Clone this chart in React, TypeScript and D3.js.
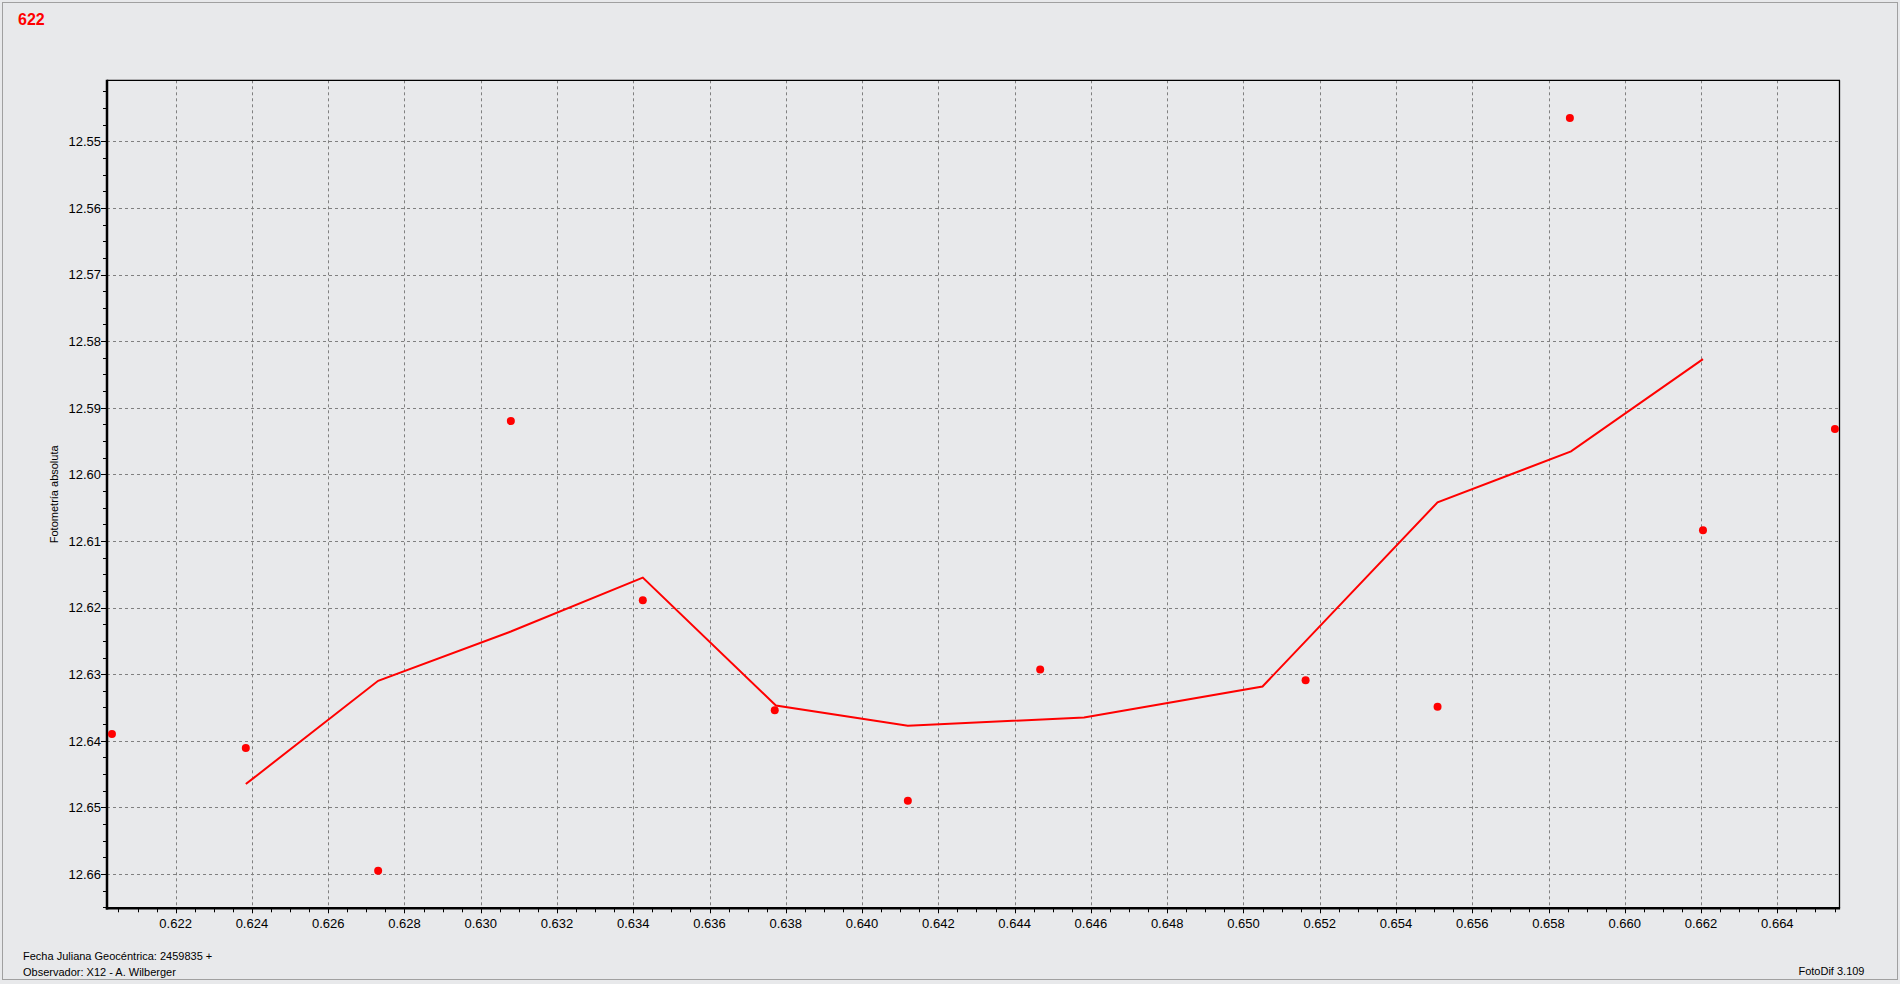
import React, { useEffect, useRef } from 'react';
import * as d3 from 'd3';

// Observations: fractional geocentric Julian Date and absolute photometry
const obsX = [0.62033, 0.62384, 0.62731, 0.63079, 0.63425, 0.63771, 0.6412, 0.64467, 0.65163, 0.65509, 0.65856, 0.66205, 0.66551];
const obsMag = [12.639, 12.6411, 12.6595, 12.592, 12.6189, 12.6354, 12.649, 12.6293, 12.6309, 12.6349, 12.5465, 12.6084, 12.5932];

// Smoothed curve
const fitX = [0.62384, 0.62731, 0.63079, 0.63425, 0.63774, 0.6412, 0.64582, 0.6505, 0.65509, 0.65859, 0.66205];
const fitMag = [12.6465, 12.631, 12.6236, 12.6155, 12.6347, 12.63775, 12.6365, 12.63185, 12.6042, 12.59655, 12.5827];

const xTicks = [0.622, 0.624, 0.626, 0.628, 0.63, 0.632, 0.634, 0.636, 0.638, 0.64, 0.642, 0.644, 0.646, 0.648, 0.65, 0.652, 0.654, 0.656, 0.658, 0.66, 0.662, 0.664];
const xTickLabels = ['0.622', '0.624', '0.626', '0.628', '0.630', '0.632', '0.634', '0.636', '0.638', '0.640', '0.642', '0.644', '0.646', '0.648', '0.650', '0.652', '0.654', '0.656', '0.658', '0.660', '0.662', '0.664'];
const yTicks = [12.55, 12.56, 12.57, 12.58, 12.59, 12.6, 12.61, 12.62, 12.63, 12.64, 12.65, 12.66];
const yTickLabels = ['12.55', '12.56', '12.57', '12.58', '12.59', '12.60', '12.61', '12.62', '12.63', '12.64', '12.65', '12.66'];

const titleText = '622';
const yLabel = 'Fotometría absoluta';
const footer1 = 'Fecha Juliana Geocéntrica: 2459835 +';
const footer2 = 'Observador: X12 - A. Wilberger';
const versionText = 'FotoDif 3.109';

const W = 1900;
const H = 984;
const P = { left: 107, right: 1839.5, top: 80.3, bottom: 908.3 };
const FONT = '"Liberation Sans", Arial, sans-serif';

export default function App() {
  const ref = useRef<SVGSVGElement>(null);

  useEffect(() => {
    const svg = d3.select(ref.current);
    svg.selectAll('*').remove();

    const x = d3.scaleLinear().domain([0.6202, 0.66563]).range([P.left, P.right]);
    const y = d3.scaleLinear().domain([12.54084, 12.66515]).range([P.top, P.bottom]);

    svg.append('rect').attr('width', W).attr('height', H).attr('fill', '#e8e9eb');
    svg.append('rect').attr('x', 2.5).attr('y', 2.5).attr('width', 1895).attr('height', 977)
      .attr('fill', 'none').attr('stroke', '#a0a0a0').attr('stroke-width', 1);

    // grid
    const grid = svg.append('g').attr('stroke', '#808080').attr('stroke-width', 1).attr('stroke-dasharray', '3,3');
    grid.selectAll('line.gx').data(xTicks).join('line').attr('class', 'gx')
      .attr('x1', d => Math.round(x(d)) + 0.5).attr('x2', d => Math.round(x(d)) + 0.5)
      .attr('y1', P.top).attr('y2', P.bottom);
    grid.selectAll('line.gy').data(yTicks).join('line').attr('class', 'gy')
      .attr('y1', d => Math.round(y(d)) + 0.5).attr('y2', d => Math.round(y(d)) + 0.5)
      .attr('x1', P.left).attr('x2', P.right);

    // minor ticks
    const [x0, x1] = x.domain();
    const xMinor = d3.range(Math.ceil(x0 / 0.0005), Math.floor(x1 / 0.0005) + 1).map(i => i * 0.0005);
    const [y0, y1] = y.domain();
    const yMinor = d3.range(Math.ceil(y0 / 0.0025), Math.floor(y1 / 0.0025) + 1).map(i => i * 0.0025);
    const ticks = svg.append('g').attr('stroke', '#000').attr('stroke-width', 1);
    ticks.selectAll('line.mx').data(xMinor).join('line').attr('class', 'mx')
      .attr('x1', d => Math.round(x(d)) + 0.5).attr('x2', d => Math.round(x(d)) + 0.5)
      .attr('y1', P.bottom).attr('y2', P.bottom + 4);
    ticks.selectAll('line.my').data(yMinor).join('line').attr('class', 'my')
      .attr('y1', d => Math.round(y(d)) + 0.5).attr('y2', d => Math.round(y(d)) + 0.5)
      .attr('x1', P.left - 4).attr('x2', P.left);
    ticks.selectAll('line.tx').data(xTicks).join('line').attr('class', 'tx')
      .attr('x1', d => Math.round(x(d)) + 0.5).attr('x2', d => Math.round(x(d)) + 0.5)
      .attr('y1', P.bottom).attr('y2', P.bottom + 5);
    ticks.selectAll('line.ty').data(yTicks).join('line').attr('class', 'ty')
      .attr('y1', d => Math.round(y(d)) + 0.5).attr('y2', d => Math.round(y(d)) + 0.5)
      .attr('x1', P.left - 6).attr('x2', P.left);

    // frame
    svg.append('line').attr('x1', P.left).attr('x2', P.right + 0.5).attr('y1', P.top).attr('y2', P.top)
      .attr('stroke', '#000').attr('stroke-width', 1.3);
    svg.append('line').attr('x1', P.right).attr('x2', P.right).attr('y1', P.top).attr('y2', P.bottom)
      .attr('stroke', '#000').attr('stroke-width', 1.3);
    svg.append('line').attr('x1', P.left).attr('x2', P.left).attr('y1', P.top - 0.6).attr('y2', P.bottom + 1.2)
      .attr('stroke', '#000').attr('stroke-width', 2.5);
    svg.append('line').attr('x1', P.left - 1.2).attr('x2', P.right + 0.6).attr('y1', P.bottom).attr('y2', P.bottom)
      .attr('stroke', '#000').attr('stroke-width', 2.5);

    // tick labels
    svg.append('g').selectAll('text').data(xTicks).join('text')
      .attr('x', d => x(d)).attr('y', 928).attr('text-anchor', 'middle')
      .attr('font-family', FONT).attr('font-size', 13).attr('fill', '#000')
      .text((d, i) => xTickLabels[i]);
    svg.append('g').selectAll('text').data(yTicks).join('text')
      .attr('x', 101).attr('y', d => y(d) + 4.8).attr('text-anchor', 'end')
      .attr('font-family', FONT).attr('font-size', 13).attr('fill', '#000')
      .text((d, i) => yTickLabels[i]);

    // axis title
    svg.append('text')
      .attr('transform', `translate(58,${(P.top + P.bottom) / 2}) rotate(-90)`)
      .attr('text-anchor', 'middle').attr('font-family', FONT).attr('font-size', 11).attr('fill', '#000')
      .text(yLabel);

    // fitted line
    const line = d3.line<number>().x((d, i) => x(fitX[i])).y(d => y(d));
    svg.append('path').datum(fitMag).attr('d', line).attr('fill', 'none')
      .attr('stroke', '#ff0000').attr('stroke-width', 2).attr('stroke-linejoin', 'miter');

    // points
    svg.append('g').selectAll('circle').data(obsMag).join('circle')
      .attr('cx', (d, i) => x(obsX[i])).attr('cy', d => y(d)).attr('r', 4).attr('fill', '#ff0000');

    // texts
    svg.append('text').attr('x', 18).attr('y', 25).attr('font-family', FONT).attr('font-size', 16)
      .attr('font-weight', 'bold').attr('fill', '#ff0000').text(titleText);
    svg.append('text').attr('x', 23).attr('y', 960).attr('font-family', FONT).attr('font-size', 11)
      .attr('fill', '#000').text(footer1);
    svg.append('text').attr('x', 23).attr('y', 975.5).attr('font-family', FONT).attr('font-size', 11)
      .attr('fill', '#000').text(footer2);
    svg.append('text').attr('x', 1864.5).attr('y', 975).attr('text-anchor', 'end').attr('font-family', FONT)
      .attr('font-size', 11).attr('fill', '#000').text(versionText);
  }, []);

  return (
    <svg ref={ref} width={W} height={H} style={{ position: 'absolute', left: 0, top: 0, display: 'block' }} />
  );
}
